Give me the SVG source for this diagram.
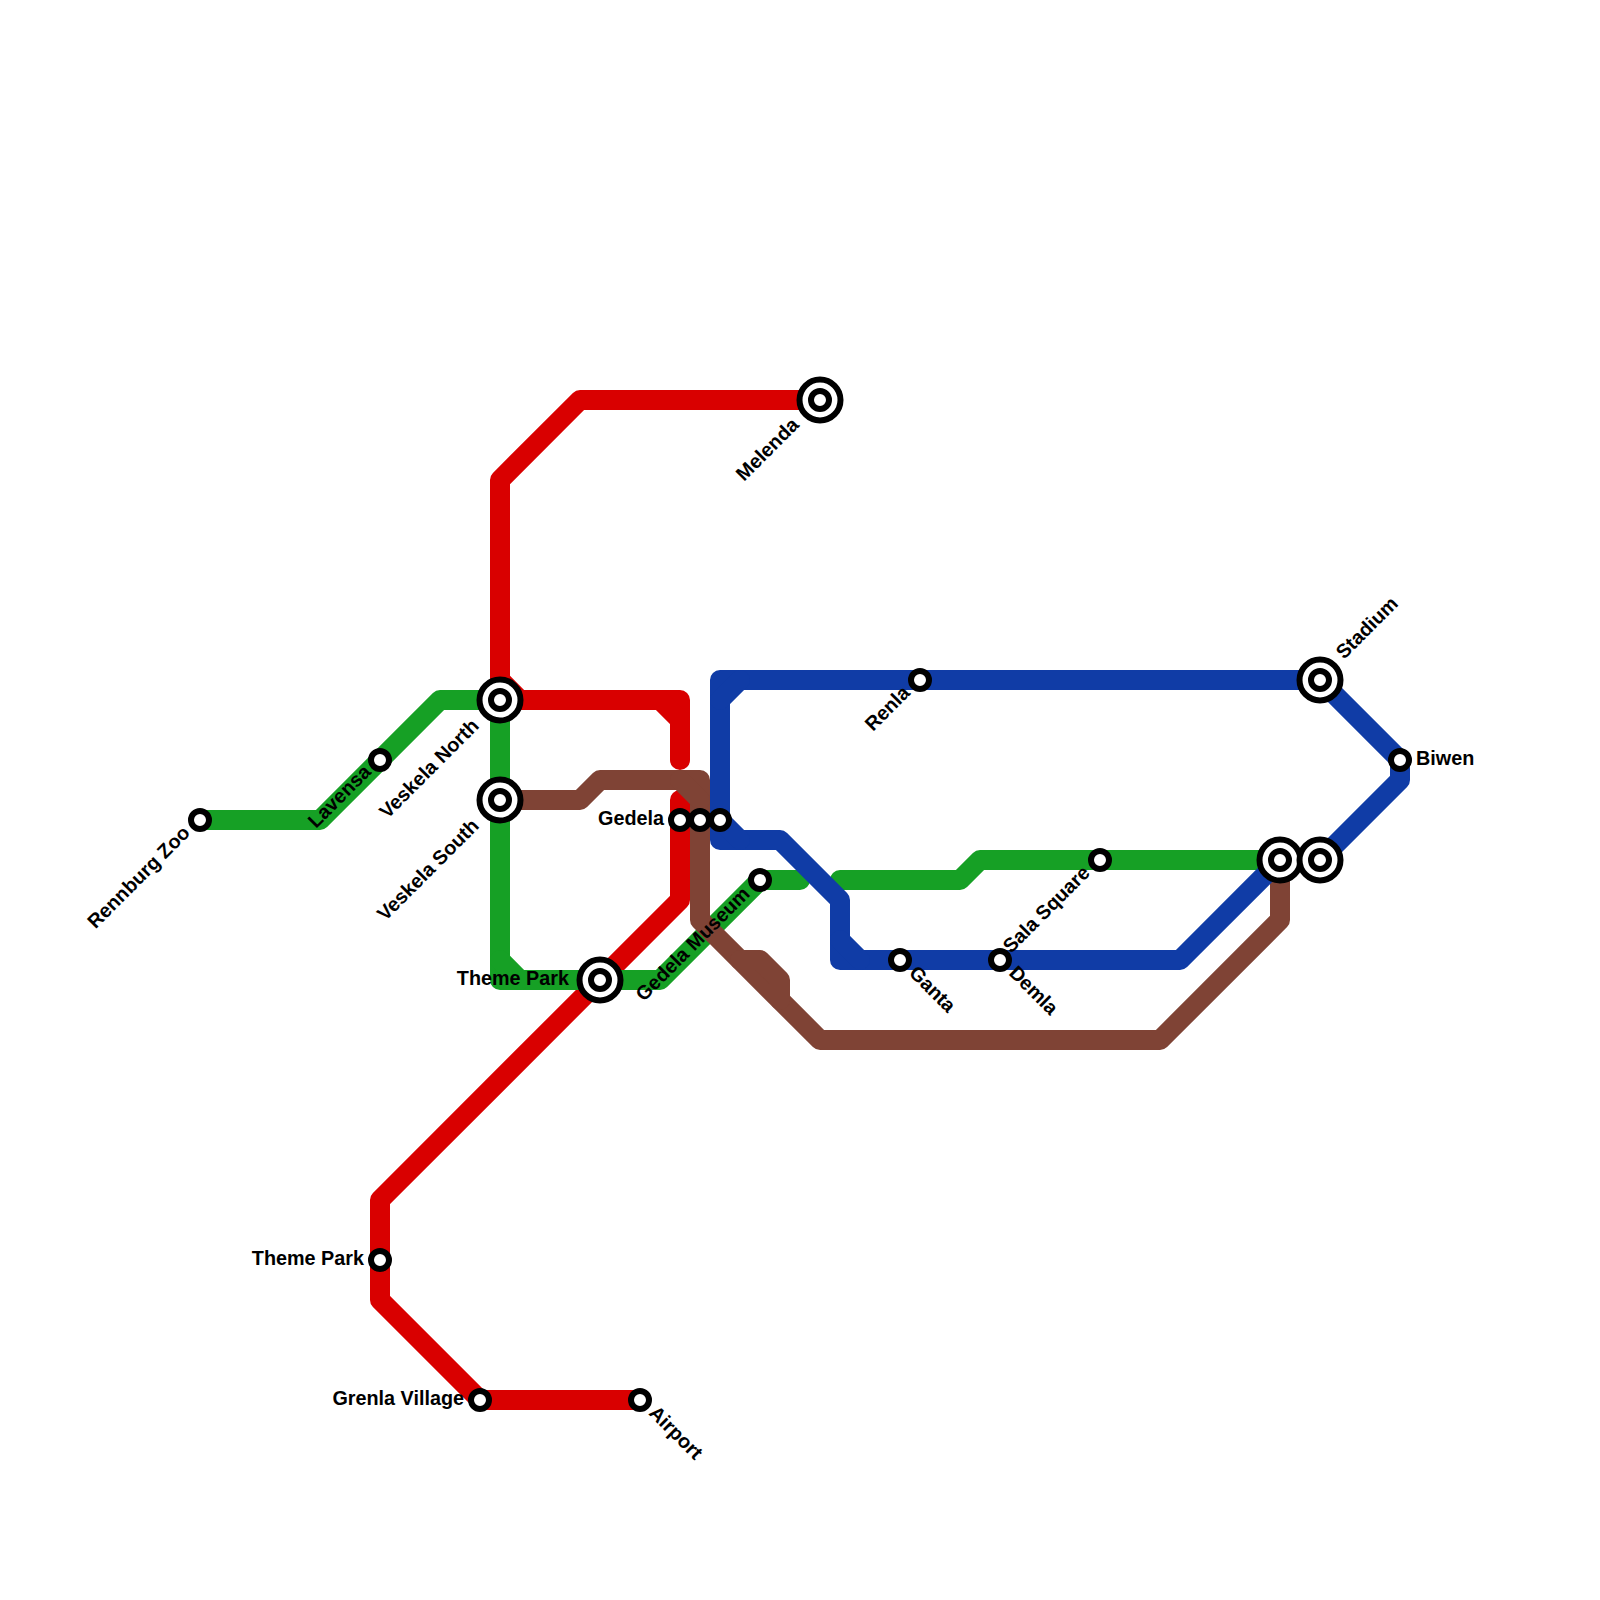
<svg xmlns="http://www.w3.org/2000/svg" width="1600" height="1600" viewBox="0 0 1600 1600">
<style>
.l{fill:none;stroke-width:20;stroke-linecap:round;stroke-linejoin:round}
.r{stroke:#d90000}.g{stroke:#16a025}.b{stroke:#103ca6}.n{stroke:#7f4335}
.o{fill:#fff;stroke:#000;stroke-width:6}
.i{fill:#fff;stroke:#000;stroke-width:6}
text{font-family:"Liberation Sans",Arial,sans-serif;font-weight:700;font-size:19.8px;fill:#000}
.e{text-anchor:end}
</style>
<defs>
<g id="big"><circle r="20.5" class="o"/><circle r="9" class="i"/></g>
<circle id="small" r="9" class="i"/>
</defs>
<rect width="1600" height="1600" fill="#fff"/>
<g id="connectors">
<path class="l r" d="M640 1400H480L380 1300V1200L680 900V800"/>
<path class="l r" d="M680 760V700H500V480L580 400H820"/>
<path class="l r" d="M500 680L520 700M660 700L680 720"/>
<path class="l g" d="M200 820H320L440 700H500V980H660L760 880H800"/>
<path class="l g" d="M500 960L520 980"/>
<path class="l g" d="M840 880H960L980 860H1280"/>
<path class="l n" d="M500 800H580L600 780H700V920L820 1040H1160L1280 920V860"/>
<path class="l n" d="M680 780L700 800M740 960H760L780 980V1000"/>
<path class="l b" d="M1280 860L1180 960H840V900L780 840H720V680H1320L1400 760V780L1320 860"/>
<path class="l b" d="M720 700L740 680M720 820L740 840M840 940L860 960"/>
</g>
<g id="n-rennburg-zoo"><use href="#small" x="200" y="820"/><text class="e" transform="translate(191 834) rotate(-45)">Rennburg Zoo</text></g>
<g id="n-lavensa"><use href="#small" x="380" y="760"/><text class="e" transform="translate(372 773) rotate(-45)">Lavensa</text></g>
<g id="n-veskela-north"><use href="#big" x="500" y="700"/><text class="e" transform="translate(480 727) rotate(-45)">Veskela North</text></g>
<g id="n-veskela-south"><use href="#big" x="500" y="800"/><text class="e" transform="translate(480 827) rotate(-45)">Veskela South</text></g>
<g id="n-theme-park-a"><use href="#big" x="600" y="980"/><text class="e" x="569" y="985">Theme Park</text></g>
<g id="n-gedela-a"><use href="#small" x="680" y="820"/><text class="e" x="664" y="825">Gedela</text></g>
<g id="n-gedela-b"><use href="#small" x="700" y="820"/></g>
<g id="n-gedela-c"><use href="#small" x="720" y="820"/></g>
<g id="n-gedela-museum"><use href="#small" x="760" y="880"/><text class="e" transform="translate(751 895) rotate(-45)">Gedela Museum</text></g>
<g id="n-melenda"><use href="#big" x="820" y="400"/><text class="e" transform="translate(800 426) rotate(-45)">Melenda</text></g>
<g id="n-renla"><use href="#small" x="920" y="680"/><text class="e" transform="translate(911 694) rotate(-45)">Renla</text></g>
<g id="n-stadium"><use href="#big" x="1320" y="680"/><text transform="translate(1344 660) rotate(-45)">Stadium</text></g>
<g id="n-biwen"><use href="#small" x="1400" y="760"/><text x="1416" y="765">Biwen</text></g>
<g id="n-interchange-a"><use href="#big" x="1280" y="860"/></g>
<g id="n-interchange-b"><use href="#big" x="1320" y="860"/></g>
<g id="n-sala-square"><use href="#small" x="1100" y="860"/><text class="e" transform="translate(1091 874) rotate(-45)">Sala Square</text></g>
<g id="n-ganta"><use href="#small" x="900" y="960"/><text transform="translate(908 974) rotate(45)">Ganta</text></g>
<g id="n-demla"><use href="#small" x="1000" y="960"/><text transform="translate(1008 974) rotate(45)">Demla</text></g>
<g id="n-theme-park-b"><use href="#small" x="380" y="1260"/><text class="e" x="364" y="1265">Theme Park</text></g>
<g id="n-grenla-village"><use href="#small" x="480" y="1400"/><text class="e" x="464" y="1405">Grenla Village</text></g>
<g id="n-airport"><use href="#small" x="640" y="1400"/><text transform="translate(648 1414) rotate(45)">Airport</text></g>
</svg>
